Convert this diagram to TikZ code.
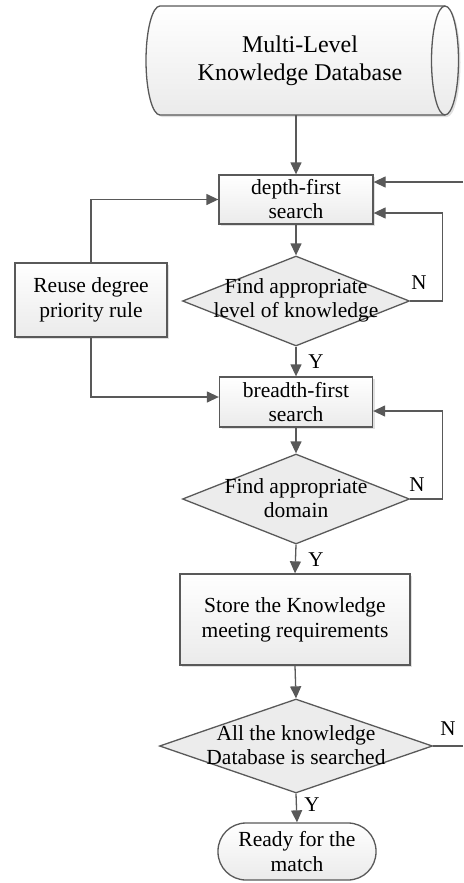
\documentclass[tikz,border=0pt]{standalone}
\usepackage{fontspec}
\setmainfont{Liberation Serif}
\usetikzlibrary{shapes.geometric,arrows.meta,shadows}
\definecolor{linec}{HTML}{595959}
\definecolor{diafill}{HTML}{ECECEC}
\tikzset{
  arr/.style={draw=linec, line width=1.3pt, -{Triangle[length=12pt,width=11pt]}},
  plain/.style={draw=linec, line width=1.3pt},
  boxshadow/.style={drop shadow={shadow xshift=2pt, shadow yshift=-2pt, opacity=0.12, fill=black}},
  procbox/.style={rectangle, draw=linec, line width=1.3pt, top color=white, bottom color=gray!16,
    align=center, inner sep=0pt, boxshadow},
  dia/.style={diamond, draw=linec, line width=1.3pt, fill=diafill, inner sep=0pt},
  txt/.style={align=center, inner sep=0pt, font=\fontsize{21.5}{24}\selectfont},
  lbl/.style={inner sep=0pt, font=\fontsize{21}{24}\selectfont},
}
\begin{document}
\begin{tikzpicture}[x=1pt,y=-1pt]
\useasboundingbox (0,0) rectangle (463,883);
% database cylinder
\fill[black, opacity=0.12] (162,8) arc[start angle=270, end angle=90, x radius=14, y radius=54.5]
  -- (447,117) arc[start angle=90, end angle=-90, x radius=13.5, y radius=54.5] -- cycle;
\path[top color=white, bottom color=gray!16, draw=linec, line width=1.3pt]
  (160,6) arc[start angle=270, end angle=90, x radius=14, y radius=54.5]
  -- (445,115) arc[start angle=90, end angle=-90, x radius=13.5, y radius=54.5] -- cycle;
\draw[plain] (445,6) arc[start angle=270, end angle=90, x radius=13.5, y radius=54.5];
\node[txt, font=\fontsize{24}{28}\selectfont, minimum width=313pt, minimum height=109pt, anchor=center]
  (db) at (300,60.5) {Multi-Level\\Knowledge Database};

% nodes
\node[procbox, minimum width=154pt, minimum height=49pt, font=\fontsize{21.5}{24}\selectfont] (dfs) at (296,199.5) {depth-first\\search};
\node[dia, minimum width=227pt, minimum height=90pt] (d1) at (296,301) {};
\node[txt] at (296,300) {Find appropriate\\level of knowledge};
\node[procbox, minimum width=152pt, minimum height=74pt, font=\fontsize{21.5}{25}\selectfont] (lb) at (91,300) {Reuse degree\\priority rule};
\node[procbox, minimum width=153pt, minimum height=50pt, font=\fontsize{21.5}{24}\selectfont] (bfs) at (296,402) {breadth-first\\search};
\node[dia, minimum width=227pt, minimum height=90pt] (d2) at (296,499) {};
\node[txt] at (296,498) {Find appropriate\\domain};
\node[procbox, minimum width=230pt, minimum height=91pt, font=\fontsize{21.5}{25}\selectfont] (store) at (295,619.5) {Store the Knowledge\\meeting requirements};
\node[dia, minimum width=273pt, minimum height=94pt] (d3) at (296,746) {};
\node[txt] at (296,745) {All the knowledge\\Database is searched};
\node[rectangle, rounded corners=28pt, draw=linec, line width=1.3pt, top color=white, bottom color=gray!16,
  minimum width=158pt, minimum height=57pt, align=center, inner sep=0pt, font=\fontsize{21.5}{25}\selectfont]
  (term) at (297,851.5) {Ready for the\\match};

% connectors
\draw[arr] (db.south -| dfs.north) -- (dfs.north);
\coordinate (in1) at (463,182);
\draw[arr] (in1) -- (in1 -| dfs.east);
\draw[arr] (dfs.south) -- (d1.north);
\draw[arr] (d1.east) -- ++(32,0) |- ([yshift=-13.5pt]dfs.east);
\node[lbl] at (419,283) {N};
\draw[arr] (lb.north) |- (dfs.west);
\draw[arr] (lb.south) |- ([yshift=5pt]bfs.west);
\draw[arr] (d1.south) -- (bfs.north);
\node[lbl] at (316,362) {Y};
\draw[arr] (bfs.south) -- (d2.north);
\draw[arr] (d2.east) -- ++(32,0) |- ([yshift=-9pt]bfs.east);
\node[lbl] at (417,485) {N};
\draw[arr] (d2.south) -- (store.north);
\node[lbl] at (316,560) {Y};
\draw[arr] (store.south) -- (d3.north);
\coordinate (out1) at (463,746);
\draw[plain] (d3.east) -- (out1);
\node[lbl] at (448,729) {N};
\draw[arr] (d3.south) -- (term.north);
\node[lbl] at (312,805) {Y};
\end{tikzpicture}
\end{document}
